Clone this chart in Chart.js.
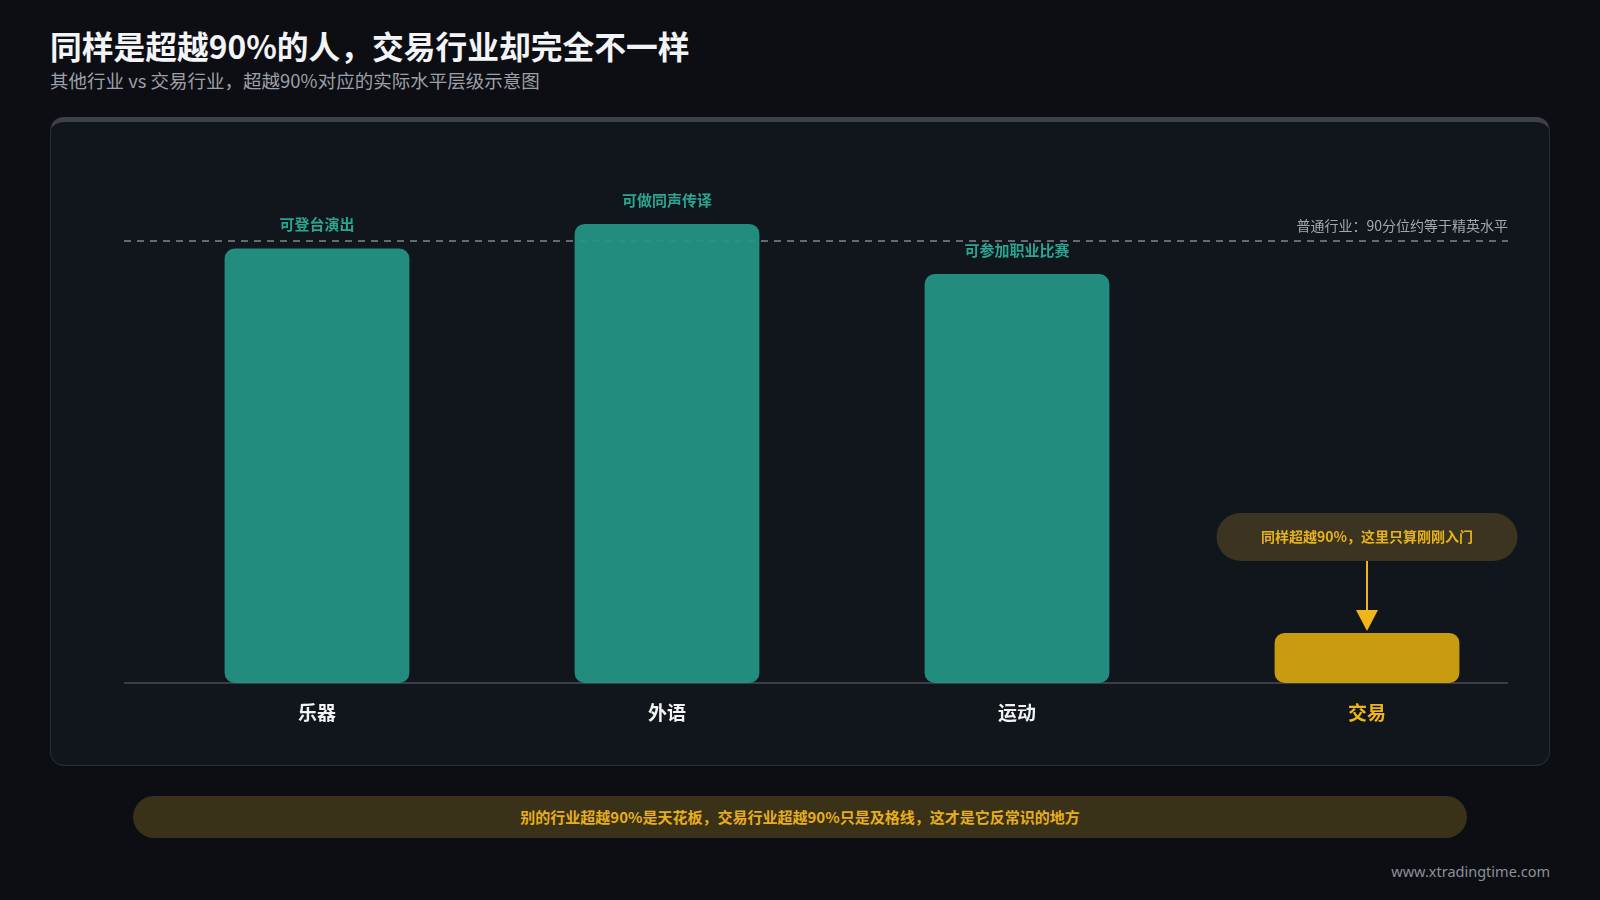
<!DOCTYPE html>
<html lang="zh-CN">
<head>
<meta charset="utf-8">
<title>同样是超越90%的人，交易行业却完全不一样</title>
<script src="https://cdn.jsdelivr.net/npm/chart.js@4.4.1/dist/chart.umd.min.js"></script>
<style>
  html, body {
    margin: 0;
    width: 1600px;
    height: 900px;
    overflow: hidden;
    background: #0d0e13;
    font-family: "Noto Sans CJK SC", "Noto Sans", sans-serif;
  }
  .title {
    position: absolute; left: 50px; top: 25px;
    margin: 0; font-size: 31.75px; line-height: 40px; font-weight: 700;
    color: #f3f4f6;
  }
  .subtitle {
    position: absolute; left: 50px; top: 68px;
    margin: 0; font-size: 18.5px; line-height: 24px;
    color: #9ca0a8;
  }
  .panel {
    position: absolute; left: 50px; top: 117px;
    width: 1500px; height: 649px; box-sizing: border-box;
    background: #11151c;
    border: 1px solid #2a2e37;
    border-top: 5px solid #3b4049;
    border-radius: 14px;
  }
  .chart-box {
    position: absolute; left: 50px; top: 117px;
    width: 1500px; height: 649px;
  }
  .banner {
    position: absolute; left: 133px; top: 796px;
    width: 1334px; height: 42px; border-radius: 21px;
    background: #3a3119;
    color: #e6ae1b; font-size: 15px; font-weight: 700;
    line-height: 42px; text-align: center;
  }
  .footer {
    position: absolute; right: 50px; top: 861px;
    font-size: 14.5px; line-height: 20px; color: #8b9099;
    font-family: "Noto Sans", sans-serif;
  }
</style>
</head>
<body>
  <h1 class="title">同样是超越90%的人，交易行业却完全不一样</h1>
  <p class="subtitle">其他行业 vs 交易行业，超越90%对应的实际水平层级示意图</p>
  <div class="panel"></div>
  <div class="chart-box"><canvas id="level-chart"></canvas></div>
  <div class="banner">别的行业超越90%是天花板，交易行业超越90%只是及格线，这才是它反常识的地方</div>
  <div class="footer">www.xtradingtime.com</div>

<script>
// ──────────────────────────────────────────────────
// Data
// ──────────────────────────────────────────────────
const categories = ['乐器', '外语', '运动', '交易'];
const levelValues = [88.5, 93.5, 83.3, 10.2];
const barNotes = ['可登台演出', '可做同声传译', '可参加职业比赛', ''];
const eliteLevel = 90;
const eliteLabel = '普通行业：90分位约等于精英水平';
const calloutText = '同样超越90%，这里只算刚刚入门';
const yMax = 100;

const TEAL = 'rgba(36,150,133,0.93)';
const GOLD = '#c99b10';
const FONT = '"Noto Sans CJK SC", "Noto Sans", sans-serif';

// ─── Rounded rect helper ─────────────────────────
function roundRect(ctx, x, y, w, h, r) {
  ctx.beginPath();
  ctx.moveTo(x + r, y);
  ctx.arcTo(x + w, y, x + w, y + h, r);
  ctx.arcTo(x + w, y + h, x, y + h, r);
  ctx.arcTo(x, y + h, x, y, r);
  ctx.arcTo(x, y, x + w, y, r);
  ctx.closePath();
}

// ─── Baseline, elite line, notes, callout ────────
const overlayPlugin = {
  id: 'overlay',
  beforeDatasetsDraw(chart) {
    const { ctx, chartArea, scales: { y } } = chart;
    const left = chartArea.left - 18;
    const right = chartArea.right - 34;
    const y0 = y.getPixelForValue(0);
    const yElite = y.getPixelForValue(eliteLevel);

    ctx.save();
    ctx.strokeStyle = '#3a3e47';
    ctx.lineWidth = 2;
    ctx.beginPath();
    ctx.moveTo(left, y0);
    ctx.lineTo(right, y0);
    ctx.stroke();

    ctx.strokeStyle = '#80858f';
    ctx.lineWidth = 1.5;
    ctx.setLineDash([7, 6]);
    ctx.beginPath();
    ctx.moveTo(left, yElite);
    ctx.lineTo(right, yElite);
    ctx.stroke();
    ctx.setLineDash([]);

    ctx.fillStyle = '#a3a7ae';
    ctx.font = `14px ${FONT}`;
    ctx.textAlign = 'right';
    ctx.textBaseline = 'middle';
    ctx.fillText(eliteLabel, right, yElite - 15);
    ctx.restore();
  },
  afterDatasetsDraw(chart) {
    const { ctx } = chart;
    const bars = chart.getDatasetMeta(0).data;

    ctx.save();
    ctx.font = `700 15px ${FONT}`;
    ctx.textAlign = 'center';
    ctx.textBaseline = 'middle';
    ctx.fillStyle = '#2aa592';
    bars.forEach((bar, i) => {
      if (barNotes[i]) ctx.fillText(barNotes[i], bar.x, bar.y - 24);
    });

    // Callout above the trading bar
    const last = bars[bars.length - 1];
    const pillW = 301, pillH = 48;
    const pillCy = last.y - 96;
    ctx.fillStyle = '#3a3421';
    roundRect(ctx, last.x - pillW / 2, pillCy - pillH / 2, pillW, pillH, pillH / 2);
    ctx.fill();
    ctx.fillStyle = '#e8b21d';
    ctx.font = `700 14px ${FONT}`;
    ctx.fillText(calloutText, last.x, pillCy);

    const arrowTop = pillCy + pillH / 2;
    const tipY = last.y - 2;
    ctx.strokeStyle = '#f0b619';
    ctx.fillStyle = '#f0b619';
    ctx.lineWidth = 2;
    ctx.beginPath();
    ctx.moveTo(last.x, arrowTop);
    ctx.lineTo(last.x, tipY - 18);
    ctx.stroke();
    ctx.beginPath();
    ctx.moveTo(last.x - 11, tipY - 21);
    ctx.lineTo(last.x + 11, tipY - 21);
    ctx.lineTo(last.x, tipY);
    ctx.closePath();
    ctx.fill();
    ctx.restore();
  },
};

// ─── Chart ───────────────────────────────────────
new Chart(document.getElementById('level-chart'), {
  type: 'bar',
  data: {
    labels: categories,
    datasets: [{
      data: levelValues,
      backgroundColor: categories.map((_, i) => (i === categories.length - 1 ? GOLD : TEAL)),
      borderRadius: 10,
      borderSkipped: false,
      barPercentage: 0.528,
      categoryPercentage: 1,
    }],
  },
  options: {
    responsive: true,
    maintainAspectRatio: false,
    animation: false,
    layout: { padding: { left: 92, right: 8, top: 75, bottom: 0 } },
    plugins: {
      legend: { display: false },
      tooltip: { enabled: false },
    },
    scales: {
      x: {
        grid: { display: false, drawTicks: false },
        border: { display: false },
        ticks: {
          padding: 18,
          font: { size: 19, weight: '700', family: FONT },
          color: (c) => (c.index === categories.length - 1 ? '#f0b619' : '#f2f3f5'),
        },
        afterFit: (scale) => { scale.height = 83; },
      },
      y: {
        display: false,
        min: 0,
        max: yMax,
      },
    },
  },
  plugins: [overlayPlugin],
});
</script>
</body>
</html>
